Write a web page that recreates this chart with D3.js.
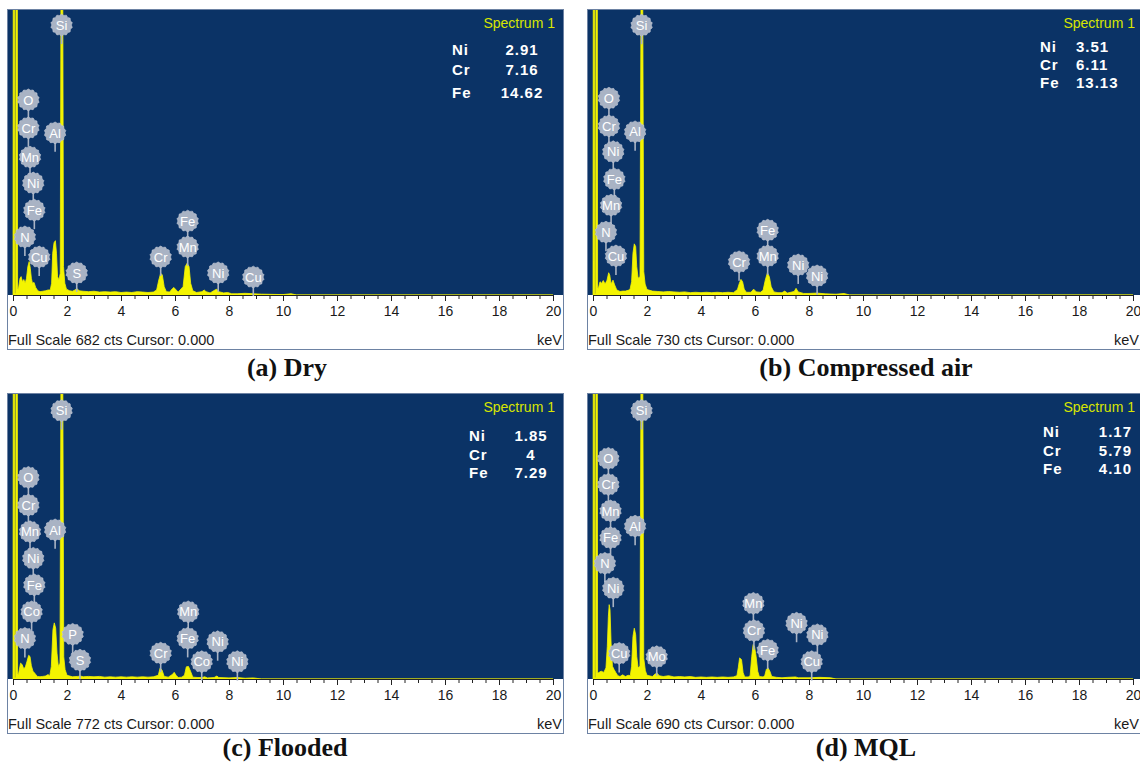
<!DOCTYPE html>
<head>
  <meta charset="utf-8">
  <script src="https://d3js.org/d3.v7.min.js"></script>
  <style>
    body { margin: 0; background: #fff; }
    svg { display: block; font-family: 'Liberation Sans', Arial, sans-serif; }
  </style>
</head>

<body>
  <svg width="1140" height="764"></svg>

  <script>
    // ---- data ----
    const kevTicks = [0, 2, 4, 6, 8, 10, 12, 14, 16, 18, 20];
    const fullScales = [682, 730, 772, 690];
    const captions = ['(a) Dry', '(b) Compressed air', '(c) Flooded', '(d) MQL'];
    const compElements = ['Ni', 'Cr', 'Fe'];
    const compDry = ['2.91', '7.16', '14.62'];
    const compAir = ['3.51', '6.11', '13.13'];
    const compFlood = ['1.85', '4', '7.29'];
    const compMQL = ['1.17', '5.79', '4.10'];

    // [keV, counts]
    const specDry = [[0,0],[0.01,800],[0.06,800],[0.07,4],[0.10,4],[0.11,800],[0.16,800],[0.17,16],
      [0.2,14],[0.26,40],[0.3,44],[0.35,32],[0.4,37],[0.45,28],[0.5,40],[0.55,68],[0.6,80],[0.64,64],
      [0.68,40],[0.72,28],[0.78,30],[0.84,18],[0.92,10],[1.0,8],[1.1,9],[1.2,10],[1.3,12],[1.38,12],
      [1.43,28],[1.47,100],[1.52,125],[1.57,130],[1.61,100],[1.65,44],[1.7,36],[1.75,52],[1.78,800],
      [1.84,800],[1.87,68],[1.92,28],[1.98,14],[2.1,10],[2.2,9],[2.3,12],[2.36,16],[2.45,10],[2.6,9],
      [2.8,8],[3.0,9],[3.2,7],[3.4,8],[3.6,7],[3.8,8],[4.0,6],[4.2,7],[4.4,6],[4.6,8],[4.8,7],[5.0,6],
      [5.2,7],[5.32,12],[5.4,36],[5.47,52],[5.53,48],[5.6,20],[5.68,8],[5.8,7],[5.9,15],[5.96,18],
      [6.04,12],[6.12,7],[6.3,20],[6.38,68],[6.45,76],[6.52,68],[6.58,28],[6.66,10],[6.8,6],[7.0,8],
      [7.08,12],[7.15,8],[7.3,5],[7.48,12],[7.55,14],[7.62,8],[7.8,5],[7.95,6],[8.1,3],[8.3,3],[8.6,4],
      [8.9,3],[9.2,2],[10.0,1],[10.3,3],[10.5,0],[20,0]];
    const specAir = [[0,0],[0.01,800],[0.06,800],[0.07,4],[0.10,4],[0.11,800],[0.16,800],[0.17,18],
      [0.2,17],[0.26,34],[0.32,30],[0.38,37],[0.45,28],[0.52,38],[0.58,57],[0.62,51],[0.67,28],[0.74,38],
      [0.8,26],[0.88,13],[1.0,9],[1.1,10],[1.2,10],[1.3,12],[1.37,14],[1.43,34],[1.48,107],[1.53,131],
      [1.58,124],[1.62,73],[1.67,43],[1.74,47],[1.78,800],[1.84,800],[1.88,60],[1.93,28],[2.0,14],
      [2.2,10],[2.4,9],[2.6,8],[2.8,9],[3.0,8],[3.2,7],[3.4,8],[3.6,6],[3.8,7],[4.0,6],[4.2,7],[4.4,6],
      [4.6,7],[4.8,6],[5.0,7],[5.2,6],[5.35,14],[5.42,30],[5.48,40],[5.54,34],[5.6,15],[5.68,7],[5.85,7],
      [5.95,15],[6.05,8],[6.2,7],[6.3,12],[6.38,38],[6.46,57],[6.53,47],[6.6,21],[6.7,8],[6.85,6],[7.0,6],
      [7.1,10],[7.2,5],[7.45,9],[7.52,17],[7.6,8],[7.8,4],[8.0,4],[8.3,5],[8.6,3],[9.0,2],[9.3,4],[9.5,0],[20,0]];
    const specFlood = [[0,0],[0.01,900],[0.06,900],[0.07,4],[0.10,4],[0.11,900],[0.16,900],[0.17,14],
      [0.2,12],[0.28,43],[0.34,39],[0.4,27],[0.46,33],[0.52,48],[0.58,64],[0.63,61],[0.68,36],[0.74,21],
      [0.8,16],[0.9,7],[1.0,6],[1.1,7],[1.2,8],[1.3,12],[1.36,8],[1.42,34],[1.48,134],[1.53,152],
      [1.58,138],[1.63,70],[1.68,34],[1.74,43],[1.78,900],[1.84,900],[1.88,60],[1.93,25],[2.0,10],
      [2.2,6],[2.4,7],[2.5,8],[2.6,6],[2.8,7],[3.0,6],[3.2,7],[3.4,5],[3.6,6],[3.8,5],[4.0,6],[4.2,5],
      [4.4,6],[4.6,5],[4.8,6],[5.0,5],[5.2,6],[5.38,10],[5.45,30],[5.52,24],[5.6,7],[5.75,5],[5.9,12],
      [5.97,18],[6.04,10],[6.12,4],[6.25,5],[6.35,10],[6.42,33],[6.5,34],[6.58,20],[6.66,5],[6.85,4],
      [7.0,4],[7.1,6],[7.2,3],[7.45,4],[7.55,8],[7.62,4],[8.0,3],[8.3,4],[8.6,2],[8.9,3],[9.2,0],[20,0]];
    const specMQL = [[0,0],[0.01,800],[0.06,800],[0.07,4],[0.10,4],[0.11,800],[0.16,800],[0.17,15],
      [0.2,15],[0.3,19],[0.4,16],[0.48,27],[0.53,79],[0.57,152],[0.6,180],[0.63,168],[0.67,87],[0.72,31],
      [0.78,23],[0.85,15],[0.92,8],[1.0,6],[1.1,10],[1.2,6],[1.3,9],[1.38,8],[1.43,31],[1.48,103],
      [1.53,123],[1.58,107],[1.62,55],[1.67,27],[1.74,31],[1.78,800],[1.84,800],[1.88,50],[1.94,20],
      [2.0,9],[2.2,6],[2.3,12],[2.38,14],[2.45,8],[2.6,6],[2.8,8],[3.0,5],[3.2,6],[3.4,5],[3.6,6],
      [3.8,4],[4.0,5],[4.2,4],[4.4,5],[4.6,4],[4.8,5],[5.0,4],[5.2,5],[5.33,8],[5.38,27],[5.43,51],
      [5.5,47],[5.56,15],[5.62,5],[5.75,5],[5.82,8],[5.88,55],[5.93,83],[5.98,79],[6.04,55],[6.1,19],
      [6.16,6],[6.3,5],[6.36,8],[6.42,23],[6.48,27],[6.55,19],[6.62,6],[6.8,4],[7.0,3],[7.2,4],[7.5,5],
      [7.6,3],[8.0,3],[8.4,4],[8.8,3],[9.0,0],[20,0]];

    // peak markers: [element, keV, label height in counts]
    const labelsDry = [['Si',1.80,646],['O',0.57,467],['Cr',0.57,400],['Al',1.56,388],['Mn',0.63,330],
      ['Ni',0.75,268],['Fe',0.79,203],['N',0.44,139],['Cu',0.97,91],['S',2.36,53],['Cr',5.47,91],
      ['Fe',6.47,177],['Mn',6.47,115],['Ni',7.6,53],['Cu',8.9,43]];
    const labelsAir = [['Si',1.80,691],['O',0.59,504],['Cr',0.59,433],['Al',1.56,418],['Ni',0.75,367],
      ['Fe',0.79,297],['Mn',0.67,230],['N',0.48,161],['Cu',0.85,100],['Cr',5.41,85],['Fe',6.47,166],
      ['Mn',6.47,100],['Ni',7.6,77],['Ni',8.3,49]];
    const labelsFlood = [['Si',1.80,727],['O',0.57,546],['Cr',0.57,471],['Mn',0.63,399],['Al',1.56,404],
      ['Ni',0.75,327],['Fe',0.79,255],['Co',0.69,182],['N',0.44,110],['P',2.21,121],['S',2.48,51],
      ['Cr',5.47,70],['Mn',6.49,182],['Fe',6.47,110],['Ni',7.58,101],['Co',6.99,47],['Ni',8.31,47]];
    const labelsMQL = [['Si',1.80,650],['O',0.57,534],['Cr',0.57,471],['Mn',0.65,407],['Al',1.56,370],
      ['Fe',0.65,342],['N',0.44,280],['Ni',0.75,220],['Cu',0.97,62],['Mo',2.36,54],['Mn',5.94,183],
      ['Cr',5.96,117],['Fe',6.47,70],['Ni',7.54,135],['Ni',8.31,107],['Cu',8.1,42]];

    const spectra = [specDry, specAir, specFlood, specMQL];
    const labelSets = [labelsDry, labelsAir, labelsFlood, labelsMQL];
    const comps = [compDry, compAir, compFlood, compMQL];

    // ---- layout of each panel (frame origin, composition table, caption) ----
    const layout = [
      { x: 7,   y: 9,   tabX: 445, valX: 515, valAnchor: 'middle', rows: [41, 61, 84], capX: 287, capY: 376 },
      { x: 587, y: 9,   tabX: 453, valX: 489, valAnchor: 'start',  rows: [38, 56, 74], capX: 866, capY: 376 },
      { x: 7,   y: 393, tabX: 462, valX: 524, valAnchor: 'middle', rows: [43, 62, 80], capX: 285, capY: 756 },
      { x: 587, y: 393, tabX: 456, valX: 545, valAnchor: 'end',    rows: [39, 58, 76], capX: 866, capY: 756 }
    ];
    const W = 556, H = 340, plotH = 285;

    const svg = d3.select('svg');

    // gear-like outline for the peak markers
    const gear = d3.lineRadial().curve(d3.curveCardinalClosed)
      .angle(d => d[0]).radius(d => d[1]);
    const gearPts = d3.range(28).map(i => [i * 2 * Math.PI / 28, i % 2 ? 9.8 : 10.9]);

    layout.forEach((L, p) => {
      const g = svg.append('g').attr('transform', `translate(${L.x},${L.y})`);

      const x = d3.scaleLinear().domain([0, 20]).range([6, 546]);
      const y = d3.scaleLinear().domain([0, fullScales[p]]).range([plotH + 1, 1]);

      // frame + plot background
      g.append('rect').attr('x', 0.5).attr('y', 0.5).attr('width', W).attr('height', H)
        .attr('fill', '#fff').attr('stroke', '#6d82a3');
      g.append('rect').attr('x', 1).attr('y', 1).attr('width', W - 1).attr('height', plotH)
        .attr('fill', '#0b3366');

      g.append('clipPath').attr('id', 'clip' + p)
        .append('rect').attr('x', 1).attr('y', 1).attr('width', W - 1).attr('height', plotH);

      // spectrum
      const area = d3.area().x(d => x(d[0])).y0(y(0)).y1(d => y(d[1]));
      g.append('path').datum(spectra[p])
        .attr('clip-path', `url(#clip${p})`)
        .attr('d', area)
        .attr('fill', '#f4f400')
        .attr('stroke', '#f4f400')
        .attr('stroke-width', 0.8);

      // axis: minor ticks every 0.5 keV, labelled ticks every 2 keV
      const axisG = g.append('g').attr('transform', `translate(0,${plotH + 1})`);
      axisG.append('g').call(d3.axisBottom(x).tickValues(d3.range(0, 20.01, 0.5)).tickSize(4).tickFormat(''))
        .call(a => a.select('.domain').remove())
        .selectAll('line').attr('stroke', '#222');
      const major = axisG.append('g').call(d3.axisBottom(x).tickValues(kevTicks).tickSize(6).tickSizeOuter(0));
      major.select('.domain').attr('stroke', '#222');
      major.selectAll('line').attr('stroke', '#222');
      major.selectAll('text')
        .attr('y', 11).attr('font-size', 14).attr('fill', '#1a1a1a')
        .attr('font-family', "'Liberation Sans', Arial, sans-serif");

      g.append('text').attr('x', 1).attr('y', 336)
        .attr('font-size', 14.5).attr('fill', '#1a1a1a')
        .text(`Full Scale ${fullScales[p]} cts Cursor: 0.000`);
      g.append('text').attr('x', Math.min(555, 1139 - L.x)).attr('y', 336).attr('text-anchor', 'end')
        .attr('font-size', 14.5).attr('fill', '#1a1a1a').text('keV');

      // peak markers
      const mk = g.append('g').selectAll('g').data(labelSets[p]).join('g')
        .attr('transform', d => `translate(${x(d[1])},${y(d[2])})`);
      mk.append('line').attr('y1', 0).attr('y2', 19)
        .attr('stroke', '#a9b3c4').attr('stroke-width', 1.6);
      mk.append('path').attr('d', gear(gearPts))
        .attr('fill', '#a9b3c4').attr('stroke', '#c3cad6').attr('stroke-width', 0.6);
      mk.append('text').attr('dy', '0.36em').attr('text-anchor', 'middle')
        .attr('font-size', 13).attr('fill', '#fff').text(d => d[0]);

      // spectrum title and composition table
      g.append('text').attr('x', 548).attr('y', 14).attr('dy', '0.36em').attr('text-anchor', 'end')
        .attr('font-size', 14).attr('fill', '#d8e600').text('Spectrum 1');
      compElements.forEach((el, i) => {
        g.append('text').attr('x', L.tabX).attr('y', L.rows[i]).attr('dy', '0.36em')
          .attr('font-size', 15).attr('font-weight', 'bold').attr('fill', '#fff')
          .attr('letter-spacing', 1).text(el);
        g.append('text').attr('x', L.valX).attr('y', L.rows[i]).attr('dy', '0.36em')
          .attr('text-anchor', L.valAnchor)
          .attr('font-size', 15).attr('font-weight', 'bold').attr('fill', '#fff')
          .attr('letter-spacing', 1).text(comps[p][i]);
      });

      // caption under the panel
      svg.append('text').attr('x', L.capX).attr('y', L.capY).attr('text-anchor', 'middle')
        .attr('font-family', "'Liberation Serif', 'Times New Roman', serif")
        .attr('font-size', 26).attr('font-weight', 'bold').attr('fill', '#111')
        .text(captions[p]);
    });
  </script>
</body>
